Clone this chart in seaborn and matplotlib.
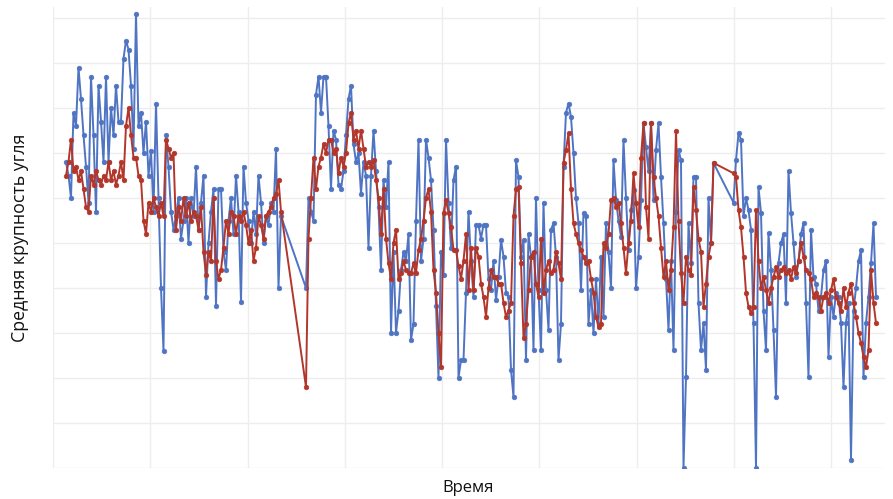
import numpy as np
import pandas as pd
import matplotlib
matplotlib.use("Agg")
import matplotlib.pyplot as plt
import seaborn as sns

# ---- data ----
# segment A
blue_a = [6.8, 6.5, 6.0, 7.9, 7.6, 8.9, 8.2, 7.4, 6.7, 5.9,
          8.7, 7.4, 5.7, 8.5, 7.7, 6.8, 8.7, 6.8, 8.0, 7.4,
          8.5, 7.7, 7.7, 9.1, 9.5, 9.3, 8.5, 7.1, 10.1, 7.6,
          7.9, 7.0, 7.7, 6.5, 7.05, 5.7, 8.1, 6.0, 4.0, 2.6,
          7.4, 6.7, 5.7, 5.3, 5.6, 6.0, 5.1, 5.5, 6.0, 5.0,
          6.0, 5.6, 6.7, 5.3, 5.9, 6.5, 3.8, 5.0, 5.7, 6.2,
          3.6, 6.2, 6.2, 4.8, 4.4, 5.5, 6.0, 5.2, 6.5, 5.7,
          3.7, 6.7, 5.9, 5.5, 5.0, 5.7, 5.2, 6.5, 5.9, 5.0,
          5.6, 5.4, 5.9, 5.7, 7.1, 4.0, 5.6]
red_a = [6.5, 6.8, 7.3, 6.6, 6.7, 6.4, 6.6, 6.2, 5.8, 5.7,
         6.5, 6.3, 6.6, 6.4, 6.3, 6.5, 6.4, 6.8, 6.4, 6.6,
         6.3, 6.5, 6.8, 6.4, 7.6, 8.0, 7.4, 6.9, 6.9, 6.5,
         6.4, 5.5, 5.2, 5.9, 5.7, 6.0, 5.8, 5.6, 5.9, 5.6,
         7.3, 7.1, 6.9, 7.0, 5.3, 5.8, 5.5, 6.0, 5.6, 5.9,
         5.5, 5.7, 5.6, 5.3, 5.8, 4.8, 4.3, 4.8, 4.6, 6.0,
         4.6, 4.2, 4.4, 4.9, 5.5, 5.2, 5.7, 5.6, 5.2, 5.6,
         5.5, 5.7, 5.4, 5.0, 5.3, 4.6, 4.9, 5.6, 5.4, 5.1,
         5.6, 5.7, 5.8, 6.0, 6.1, 6.4, 5.7]
# segment B
blue_b = [4.0, 6.0, 5.7, 5.5, 8.3, 8.7, 7.9, 8.7, 8.7, 7.6,
          6.2, 7.5, 7.3, 6.3, 6.2, 6.6, 7.4, 8.2, 8.5, 7.2,
          6.8, 7.0, 6.1, 6.8, 6.5, 4.9, 6.5, 7.5, 6.6, 5.8,
          4.4, 6.4, 5.8, 6.8, 3.0, 4.8, 3.0, 3.5, 4.4, 4.8,
          4.6, 5.2, 2.85, 3.2, 5.5, 7.3, 4.6, 5.1, 7.3, 6.9,
          6.4, 5.3, 3.6, 2.0, 4.8, 4.3, 7.3, 5.9, 4.9, 6.4,
          6.7, 2.0, 2.4, 2.4, 3.9, 5.7, 4.6, 3.8, 5.4, 5.4,
          5.1, 5.4, 5.4, 4.2, 3.95, 4.6, 3.73, 4.24, 5.07, 4.7,
          3.9, 3.8, 2.18, 1.58, 6.84, 6.47, 4.7, 5.07, 2.4, 5.2,
          4.7, 2.62, 6.0, 3.95, 2.62, 5.9, 3.95, 3.07, 5.3, 5.44,
          4.7, 2.4, 3.2, 6.7, 7.9, 8.1, 7.8, 7.0, 6.0, 5.44,
          3.95, 5.67, 5.6, 3.2, 3.95, 3.0, 4.2, 3.2, 4.7, 3.36,
          5.44, 4.8, 4.0, 6.84, 5.95, 5.5, 5.14, 7.29, 6.0, 4.84,
          5.73, 6.18, 4.0, 4.7, 5.95, 7.66, 7.14, 6.6, 7.66, 5.95,
          7.07, 7.66, 6.47, 5.44, 4.2, 3.07, 4.6, 2.62, 5.7, 7.07,
          6.84, 0.0, 2.02, 5.44, 4.55, 6.47, 6.47, 3.67, 2.62, 3.22,
          2.18, 6.0, 5.0, 6.78]
red_b = [1.8, 5.1, 6.0, 6.9, 6.2, 6.7, 6.9, 7.2, 7.0, 7.3,
         7.3, 7.0, 7.1, 6.55, 6.9, 6.7, 7.0, 7.66, 7.9, 7.3,
         7.5, 7.1, 7.5, 7.1, 6.7, 6.8, 6.7, 6.85, 6.4, 6.0,
         5.2, 6.2, 5.1, 4.55, 4.2, 5.0, 5.3, 4.2, 4.33, 4.6,
         4.4, 4.33, 4.33, 4.55, 4.33, 4.84, 5.1, 5.5, 6.0, 6.2,
         5.7, 4.4, 3.9, 3.0, 2.24, 5.67, 5.95, 5.67, 5.35, 4.84,
         4.84, 4.5, 4.2, 4.6, 5.2, 3.95, 4.9, 3.95, 4.9, 4.7,
         4.1, 3.8, 3.36, 4.0, 4.4, 4.24, 4.24, 4.1, 4.1, 3.67,
         3.36, 3.5, 3.67, 5.6, 6.2, 6.24, 4.55, 2.9, 3.2, 3.95,
         4.7, 4.8, 4.1, 3.8, 5.1, 3.9, 4.4, 4.6, 4.33, 4.4,
         4.8, 4.55, 4.2, 6.78, 7.07, 7.44, 6.2, 5.44, 5.2, 5.0,
         4.84, 4.7, 4.55, 4.6, 4.2, 3.9, 3.36, 3.13, 3.2, 5.0,
         4.9, 5.2, 5.95, 6.0, 5.8, 5.9, 5.44, 4.9, 4.33, 5.0,
         5.5, 6.55, 5.9, 5.35, 6.9, 7.66, 5.8, 5.1, 7.66, 6.47,
         6.0, 5.6, 4.9, 4.24, 4.6, 3.95, 4.4, 5.35, 7.5, 5.5,
         4.33, 3.67, 4.7, 4.4, 4.3, 6.24, 5.73, 5.1, 4.8, 3.58,
         4.1, 4.7, 5.0, 6.78]
# segment C
blue_c = [5.9, 6.84, 7.44, 7.3, 5.6, 6.0, 5.73, 5.3, 3.22, 0.0,
          6.24, 5.67, 3.5, 2.62, 5.22, 4.4, 3.07, 1.58, 4.55, 5.0,
          5.2, 3.67, 6.6, 5.67, 5.0, 4.24, 4.6, 5.2, 5.44, 3.67,
          2.02, 5.3, 4.24, 4.1, 3.5, 3.8, 4.4, 4.6, 2.47, 3.8,
          3.36, 3.9, 3.8, 3.22, 1.8, 3.22, 3.67, 0.18, 3.5, 4.0,
          4.6, 4.84, 2.02, 3.22, 3.8, 4.55, 5.44, 3.8]
red_c = [6.55, 6.47, 5.73, 5.35, 4.7, 3.9, 3.58, 3.44, 3.58, 5.73,
         4.6, 4.0, 4.24, 3.95, 3.67, 4.0, 4.24, 4.46, 4.24, 4.4,
         4.46, 4.33, 4.4, 4.2, 4.46, 4.33, 4.6, 5.0, 4.7, 4.4,
         4.33, 4.2, 3.8, 3.9, 3.8, 3.5, 3.8, 3.9, 3.67, 3.95,
         4.2, 3.8, 3.67, 3.5, 4.0, 3.58, 3.9, 4.1, 3.67, 3.36,
         3.0, 2.78, 2.47, 2.24, 2.62, 4.4, 3.67, 3.22]
# time offsets where each recorded segment starts
seg_start = [0, 96, 267]

x_label = "Время"
y_label = "Средняя крупность угля"

BLUE = "#4f74c3"
RED = "#b3362b"


def series(parts):
    t, v = [], []
    for start, vals in zip(seg_start, parts):
        t.extend(range(start, start + len(vals)))
        v.extend(vals)
    return np.array(t, dtype=float), np.array(v, dtype=float)


tb, vb = series([blue_a, blue_b, blue_c])
tr, vr = series([red_a, red_b, red_c])
df = pd.concat([
    pd.DataFrame({"t": tb, "v": vb, "s": "blue"}),
    pd.DataFrame({"t": tr, "v": vr, "s": "red"}),
])

sns.set_theme(style="white")
plt.rcParams["font.family"] = ["Open Sans", "DejaVu Sans"]

W, H = 893, 499
fig = plt.figure(figsize=(W / 100, H / 100), dpi=100)
ax_l, ax_r, ax_top, ax_bot = 53, 885, 6.75, 468
ax = fig.add_axes([ax_l / W, (H - ax_bot) / H, (ax_r - ax_l) / W, (ax_bot - ax_top) / H])

for name, col in [("blue", BLUE), ("red", RED)]:
    sub = df[df["s"] == name]
    sns.lineplot(data=sub, x="t", y="v", ax=ax, color=col, linewidth=1.4,
                 marker="o", markersize=3.4, markeredgewidth=0.4,
                 markeredgecolor=col, estimator=None, sort=False, legend=False)

ax.set_xlim(-5.2, 327.6)
ax.set_ylim(0, 10.25)
ax.set_xticks(np.arange(-5.2, 327, 38.9))
ax.set_yticks(np.arange(0, 11, 1))
ax.tick_params(length=0, labelbottom=False, labelleft=False)
ax.grid(True, color="#ededed", linewidth=1.0)
ax.set_axisbelow(True)
for s in ax.spines.values():
    s.set_visible(False)
ax.set_xlabel("")
ax.set_ylabel("")

fig.text(468 / W, 1 - 488 / H, x_label, ha="center", va="center", fontsize=12, color="#111111")
fig.text(20 / W, 1 - 238 / H, y_label, ha="center", va="center", rotation=90, fontsize=12.8, color="#111111")

fig.savefig("out.png", dpi=100)
